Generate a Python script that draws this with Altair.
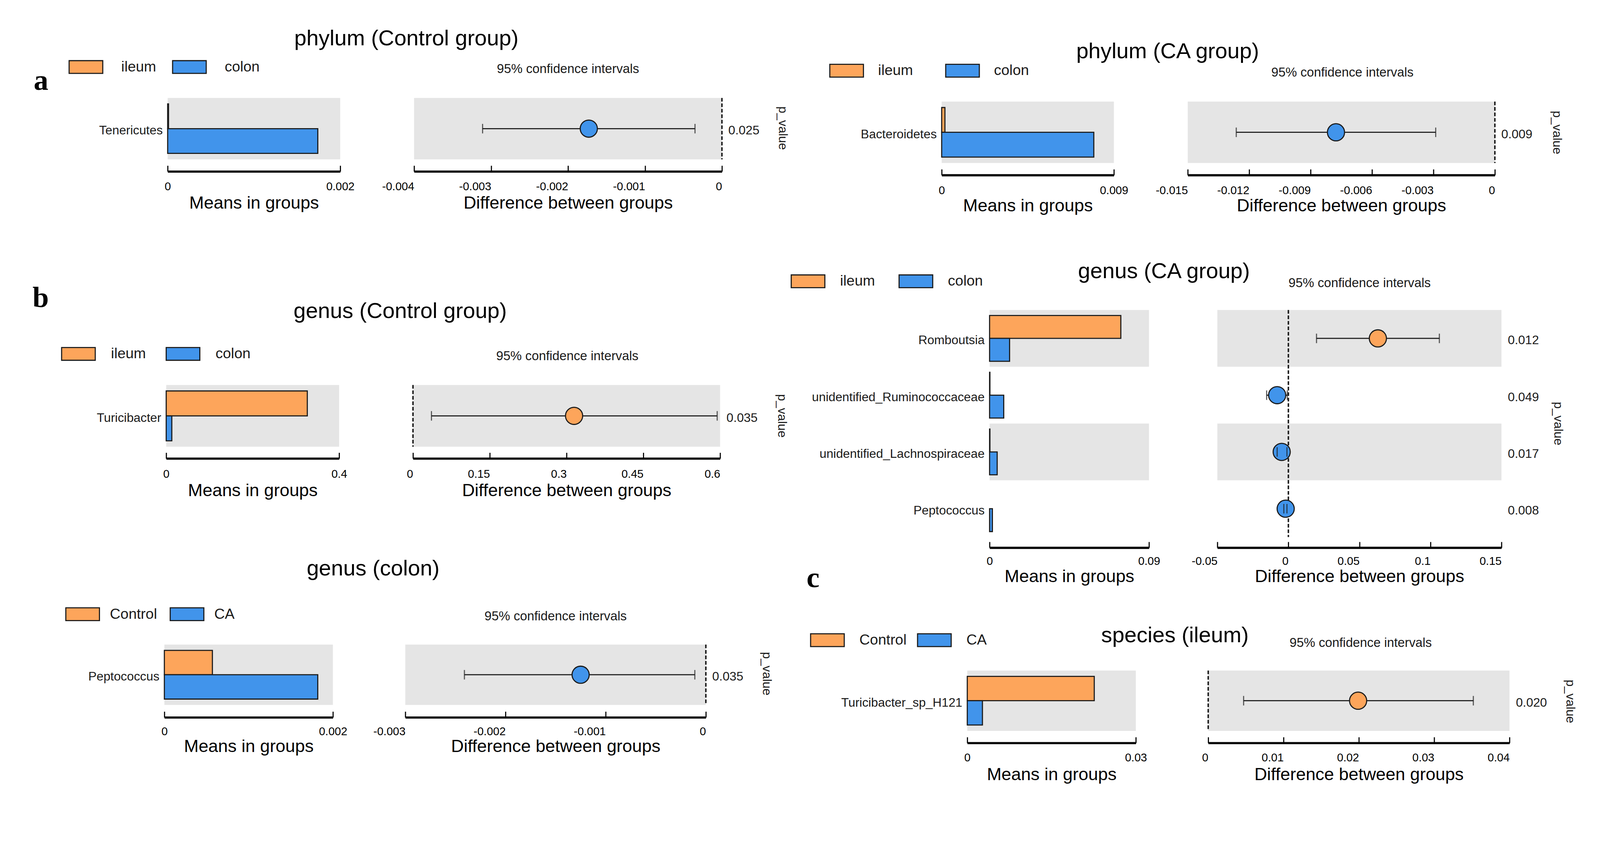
import altair as alt
import pandas as pd

# ---------------------------------------------------------------- data
# a) phylum, Control group : ileum vs colon
phyCtl_taxa = ["Tenericutes"]
phyCtl_groups = ["ileum", "colon"]
phyCtl_mean_g1 = [0.00001]
phyCtl_mean_g2 = [0.00174]
phyCtl_diff = [-0.00173]
phyCtl_ci_lo = [-0.00311]
phyCtl_ci_hi = [-0.00035]
phyCtl_p = ["0.025"]
phyCtl_mean_ticks = [0, 0.002]
phyCtl_diff_ticks = [-0.004, -0.003, -0.002, -0.001, 0]

# a) phylum, CA group : ileum vs colon
phyCA_taxa = ["Bacteroidetes"]
phyCA_groups = ["ileum", "colon"]
phyCA_mean_g1 = [0.00017]
phyCA_mean_g2 = [0.00795]
phyCA_diff = [-0.00776]
phyCA_ci_lo = [-0.01263]
phyCA_ci_hi = [-0.00289]
phyCA_p = ["0.009"]
phyCA_mean_ticks = [0, 0.009]
phyCA_diff_ticks = [-0.015, -0.012, -0.009, -0.006, -0.003, 0]

# b) genus, Control group : ileum vs colon
genCtl_taxa = ["Turicibacter"]
genCtl_groups = ["ileum", "colon"]
genCtl_mean_g1 = [0.3264]
genCtl_mean_g2 = [0.013]
genCtl_diff = [0.3147]
genCtl_ci_lo = [0.0361]
genCtl_ci_hi = [0.5943]
genCtl_p = ["0.035"]
genCtl_mean_ticks = [0, 0.4]
genCtl_diff_ticks = [0, 0.15, 0.3, 0.45, 0.6]

# b) genus, CA group : ileum vs colon
genCA_taxa = ["Romboutsia", "unidentified_Ruminococcaceae",
              "unidentified_Lachnospiraceae", "Peptococcus"]
genCA_groups = ["ileum", "colon"]
genCA_mean_g1 = [0.0741, 0.0002, 0.0002, 0.0]
genCA_mean_g2 = [0.0113, 0.0080, 0.0043, 0.0016]
genCA_diff = [0.0630, -0.0079, -0.0047, -0.0019]
genCA_ci_lo = [0.0198, -0.0153, -0.0079, -0.0032]
genCA_ci_hi = [0.1063, -0.0008, -0.0010, -0.0010]
genCA_p = ["0.012", "0.049", "0.017", "0.008"]
genCA_mean_ticks = [0, 0.09]
genCA_diff_ticks = [-0.05, 0, 0.05, 0.1, 0.15]

# b) genus, colon : Control vs CA
genCol_taxa = ["Peptococcus"]
genCol_groups = ["Control", "CA"]
genCol_mean_g1 = [0.00057]
genCol_mean_g2 = [0.00182]
genCol_diff = [-0.00125]
genCol_ci_lo = [-0.00241]
genCol_ci_hi = [-0.00011]
genCol_p = ["0.035"]
genCol_mean_ticks = [0, 0.002]
genCol_diff_ticks = [-0.003, -0.002, -0.001, 0]

# c) species, ileum : Control vs CA
spIle_taxa = ["Turicibacter_sp_H121"]
spIle_groups = ["Control", "CA"]
spIle_mean_g1 = [0.0226]
spIle_mean_g2 = [0.0027]
spIle_diff = [0.0199]
spIle_ci_lo = [0.0047]
spIle_ci_hi = [0.0352]
spIle_p = ["0.020"]
spIle_mean_ticks = [0, 0.03]
spIle_diff_ticks = [0, 0.01, 0.02, 0.03, 0.04]

panel_titles = ["phylum (Control group)", "phylum (CA group)", "genus (Control group)",
                "genus (CA group)", "genus (colon)", "species (ileum)"]
panel_letters = ["a", "", "b", "", "", "c"]

PANELS = [
    dict(taxa=phyCtl_taxa, groups=phyCtl_groups, m1=phyCtl_mean_g1, m2=phyCtl_mean_g2,
         diff=phyCtl_diff, lo=phyCtl_ci_lo, hi=phyCtl_ci_hi, p=phyCtl_p,
         mt=phyCtl_mean_ticks, dt=phyCtl_diff_ticks),
    dict(taxa=phyCA_taxa, groups=phyCA_groups, m1=phyCA_mean_g1, m2=phyCA_mean_g2,
         diff=phyCA_diff, lo=phyCA_ci_lo, hi=phyCA_ci_hi, p=phyCA_p,
         mt=phyCA_mean_ticks, dt=phyCA_diff_ticks),
    dict(taxa=genCtl_taxa, groups=genCtl_groups, m1=genCtl_mean_g1, m2=genCtl_mean_g2,
         diff=genCtl_diff, lo=genCtl_ci_lo, hi=genCtl_ci_hi, p=genCtl_p,
         mt=genCtl_mean_ticks, dt=genCtl_diff_ticks),
    dict(taxa=genCA_taxa, groups=genCA_groups, m1=genCA_mean_g1, m2=genCA_mean_g2,
         diff=genCA_diff, lo=genCA_ci_lo, hi=genCA_ci_hi, p=genCA_p,
         mt=genCA_mean_ticks, dt=genCA_diff_ticks),
    dict(taxa=genCol_taxa, groups=genCol_groups, m1=genCol_mean_g1, m2=genCol_mean_g2,
         diff=genCol_diff, lo=genCol_ci_lo, hi=genCol_ci_hi, p=genCol_p,
         mt=genCol_mean_ticks, dt=genCol_diff_ticks),
    dict(taxa=spIle_taxa, groups=spIle_groups, m1=spIle_mean_g1, m2=spIle_mean_g2,
         diff=spIle_diff, lo=spIle_ci_lo, hi=spIle_ci_hi, p=spIle_p,
         mt=spIle_mean_ticks, dt=spIle_diff_ticks),
]

# ---------------------------------------------------------------- layout (page pixels)
COLX = [8, 1040, 2150, 3200]
COLW = [1032, 1110, 1050, 1165]
ROWY = [8, 700, 1450]
ROWH = [692, 750, 746]
TOP_FIX = 76   # vertical slack that the renderer adds above the first row

LAYOUT = [
    dict(col=0, row=0, bar=(457, 929), dif=(1131, 1973), y=(270, 438), axis=471, lab=51, tit=101,
         title=(1110, 126), ci=(1552, 202), leg=(233.5, 185.5), lo=49, cp=38, pv=(2138, 352),
         letter=(90, 247)),
    dict(col=2, row=0, bar=(2574, 3045), dif=(3247, 4087), y=(280, 448), axis=481, lab=52, tit=99,
         title=(3192, 161), ci=(3670, 212), leg=(2314, 195.5), lo=38.5, cp=82, pv=(4256, 364)),
    dict(col=0, row=1, bar=(453, 926), dif=(1128, 1968), y=(1055, 1224), axis=1256, lab=52, tit=102,
         title=(1093, 872), ci=(1550, 987), leg=(213, 970), lo=41.5, cp=48, pv=(2136, 1139),
         letter=(87, 841)),
    dict(col=2, row=1, bar=(2705, 3141), dif=(3328, 4105), y=(850, 1471), axis=1500, lab=47, tit=94,
         title=(3182, 763), ci=(3717, 787), leg=(2208.5, 771.5), lo=40, cp=59, pv=(4259, 1160)),
    dict(col=0, row=2, bar=(448, 909), dif=(1107, 1929), y=(1765, 1930), axis=1964, lab=48, tit=94,
         title=(1019, 1576), ci=(1518, 1699), leg=(224.5, 1682), lo=27, cp=29.5, pv=(2094, 1844)),
    dict(col=2, row=2, bar=(2644, 3105), dif=(3303, 4127), y=(1836, 2001), axis=2034, lab=50, tit=101,
         title=(3212, 1759), ci=(3720, 1771), leg=(2261.5, 1753), lo=40, cp=23.5, pv=(4292, 1920),
         letter=(2204, 1607)),
]

ORANGE = "#FDA55B"
BLUE = "#4194EB"
GRAY = "#E5E5E5"
DARK = "#1A1A1A"
FONT = "Liberation Sans"
SERIF = "Liberation Serif"
TICK = 16
SYM_W = 92.0
SYM_PATH = "M-1,-0.38L1,-0.38L1,0.38L-1,0.38Z"
TITLE_FS = 60
CI_FS = 35


def x_axis(ticks, axis_rel, lab, tit, title, align):
    return alt.Axis(
        orient="top", offset=-axis_rel, values=ticks, grid=False,
        domainWidth=6, domainColor="black", ticks=True, tickSize=TICK, tickWidth=3,
        tickColor="black", labelPadding=-(TICK + lab), labelBaseline="alphabetic",
        labelAlign=align, labelFontSize=31, labelColor="black", labelFlush=False,
        labelOverlap=False, labelExpr="'' + datum.value",
        title=title, titleY=tit, titleBaseline="alphabetic", titleFontSize=48,
        titleFontWeight="normal", titleColor="black")


def bg_frame(cats, lo_v, hi_v):
    return pd.DataFrame({"taxon": cats,
                         "shade": [i % 2 == 0 for i in range(len(cats))],
                         "x0": [lo_v] * len(cats), "x1": [hi_v] * len(cats)})


def cell_title(text, pos, cx, ry, W, fs, color):
    # the title group sits one text-height above "offset"; compensate so the baseline lands at pos
    return alt.TitleParams(text, anchor="middle", frame="group",
                           offset=-(pos[1] - ry + fs), dx=pos[0] - cx - W / 2,
                           baseline="alphabetic", fontSize=fs, font=FONT,
                           fontWeight="normal", color=color)


def bar_cell(d, L, title, letter):
    col, row = L["col"], L["row"]
    cx, ry, W, H = COLX[col], ROWY[row], COLW[col], ROWH[row]
    cats = d["taxa"]
    g1, g2 = d["groups"]
    x0, x1 = L["bar"][0] - cx, L["bar"][1] - cx
    y0, y1 = L["y"][0] - ry, L["y"][1] - ry
    xsc = alt.Scale(domain=[d["mt"][0], d["mt"][-1]], range=[x0, x1], nice=False, zero=False)
    ysc = alt.Scale(domain=cats, range=[y0, y1], paddingInner=0, paddingOuter=0)

    rows = []
    for i, t in enumerate(cats):
        rows.append({"taxon": t, "group": g1, "mean": d["m1"][i]})
        rows.append({"taxon": t, "group": g2, "mean": d["m2"][i]})
    bar_df = pd.DataFrame(rows)

    half = SYM_W / 2 + 1.5
    legend = alt.Legend(
        orient="none", legendX=L["leg"][0] - cx - half, legendY=L["leg"][1] - ry - half,
        direction="horizontal", title=None, padding=0,
        symbolType=SYM_PATH, symbolSize=SYM_W * SYM_W, symbolStrokeColor=DARK,
        symbolStrokeWidth=3, symbolOpacity=1, labelFontSize=40, labelFont=FONT,
        labelColor=DARK, labelOffset=L["lo"], columnPadding=L["cp"], labelLimit=0)

    yargs = dict(orient="left", offset=-x0, domain=False, ticks=False, labelPadding=14,
                 labelFontSize=34, labelBaseline="alphabetic", labelOffset=16, labelLimit=0,
                 labelColor=DARK, grid=False)
    if letter:
        yargs.update(title=letter, titleAngle=0, titleAlign="left", titleBaseline="alphabetic",
                     titleX=L["letter"][0] - L["bar"][0], titleY=L["letter"][1] - ry,
                     titleFont=SERIF, titleFontWeight="bold", titleFontSize=80, titleColor="black")
    else:
        yargs.update(title="")
    yaxis = alt.Axis(**yargs)

    # first layer carries the axes; other layers leave the axis unspecified so it merges
    bg = alt.Chart(bg_frame(cats, d["mt"][0], d["mt"][-1])).transform_filter(
        "datum.shade").mark_rect(color=GRAY).encode(
        x=alt.X("x0:Q", scale=xsc,
                axis=x_axis(d["mt"], L["axis"] - ry, L["lab"], L["tit"], "Means in groups", "center")),
        x2="x1:Q",
        y=alt.Y("taxon:N", scale=ysc, axis=yaxis))

    bars = alt.Chart(bar_df).transform_filter("datum.mean > 0").mark_bar(
        stroke=DARK, strokeWidth=3, opacity=1).encode(
        x=alt.X("mean:Q", scale=xsc),
        y=alt.Y("taxon:N", scale=ysc),
        yOffset=alt.YOffset("group:N", scale=alt.Scale(domain=[g1, g2], paddingInner=0,
                                                       paddingOuter=0.24)),
        color=alt.Color("group:N", scale=alt.Scale(domain=[g1, g2], range=[ORANGE, BLUE]),
                        legend=legend))

    return alt.layer(bg, bars).properties(
        width=W, height=H, title=cell_title(title, L["title"], cx, ry, W, TITLE_FS, "black"))


def diff_cell(d, L):
    col, row = L["col"] + 1, L["row"]
    cx, ry, W, H = COLX[col], ROWY[row], COLW[col], ROWH[row]
    cats = d["taxa"]
    g1, g2 = d["groups"]
    x0, x1 = L["dif"][0] - cx, L["dif"][1] - cx
    y0, y1 = L["y"][0] - ry, L["y"][1] - ry
    xsc = alt.Scale(domain=[d["dt"][0], d["dt"][-1]], range=[x0, x1], nice=False, zero=False)
    ysc = alt.Scale(domain=cats, range=[y0, y1], paddingInner=0, paddingOuter=0)

    higher = [g1 if a > b else g2 for a, b in zip(d["m1"], d["m2"])]
    df = pd.DataFrame({"taxon": cats, "diff": d["diff"], "lo": d["lo"], "hi": d["hi"],
                       "higher": higher})
    zero_df = pd.DataFrame({"taxon": [cats[0]], "bot": [cats[-1]], "zero": [0.0]})

    pexpr = "''"
    for t, p in zip(reversed(cats), reversed(d["p"])):
        pexpr = "datum.value === '%s' ? '%s' : (%s)" % (t, p, pexpr)

    yaxis_r = alt.Axis(
        orient="right", offset=x1 - W, domain=False, ticks=False, grid=False,
        labelPadding=17, labelAlign="left", labelBaseline="alphabetic", labelOffset=16,
        labelFontSize=34, labelColor=DARK, labelExpr=pexpr, labelLimit=0,
        title="p_value", titleAngle=90, titleX=L["pv"][0] - L["dif"][1], titleY=L["pv"][1] - ry,
        titleAlign="center", titleBaseline="middle", titleFontSize=34,
        titleFontWeight="normal", titleColor=DARK)

    bg = alt.Chart(bg_frame(cats, d["dt"][0], d["dt"][-1])).transform_filter(
        "datum.shade").mark_rect(color=GRAY).encode(
        x=alt.X("x0:Q", scale=xsc,
                axis=x_axis(d["dt"], L["axis"] - ry, L["lab"], L["tit"],
                            "Difference between groups", "right")),
        x2="x1:Q",
        y=alt.Y("taxon:N", scale=ysc, axis=yaxis_r))

    zero = alt.Chart(zero_df).mark_rule(color=DARK, strokeWidth=4, strokeDash=[10, 5]).encode(
        x=alt.X("zero:Q", scale=xsc),
        y=alt.Y("taxon:N", scale=ysc, bandPosition=0),
        y2=alt.Y2("bot:N", bandPosition=1))

    ci = alt.Chart(df).mark_rule(color=DARK, strokeWidth=3).encode(
        x=alt.X("lo:Q", scale=xsc),
        x2="hi:Q",
        y=alt.Y("taxon:N", scale=ysc))

    dot = alt.Chart(df).mark_circle(size=2200, stroke=DARK, strokeWidth=3, opacity=1).encode(
        x=alt.X("diff:Q", scale=xsc),
        y=alt.Y("taxon:N", scale=ysc),
        color=alt.Color("higher:N", scale=alt.Scale(domain=[g1, g2], range=[ORANGE, BLUE]),
                        legend=None))

    cap_lo = alt.Chart(df).mark_tick(color=DARK, thickness=3, size=26, orient="vertical").encode(
        x=alt.X("lo:Q", scale=xsc), y=alt.Y("taxon:N", scale=ysc))
    cap_hi = alt.Chart(df).mark_tick(color=DARK, thickness=3, size=26, orient="vertical").encode(
        x=alt.X("hi:Q", scale=xsc), y=alt.Y("taxon:N", scale=ysc))

    return alt.layer(bg, zero, ci, dot, cap_lo, cap_hi).properties(
        width=W, height=H,
        title=cell_title("95% confidence intervals", L["ci"], cx, ry, W, CI_FS, DARK))


cells = []
for i in range(len(PANELS)):
    cells.append(bar_cell(PANELS[i], LAYOUT[i], panel_titles[i], panel_letters[i]))
    cells.append(diff_cell(PANELS[i], LAYOUT[i]))

chart = alt.concat(*cells, columns=4, spacing=0, bounds="flush").resolve_scale(
    color="independent", yOffset="independent"
).properties(
    padding={"top": -TOP_FIX, "left": 0, "right": 0, "bottom": 0}, background="white"
).configure(font=FONT).configure_view(
    stroke="transparent"
).configure_axis(labelFont=FONT, titleFont=FONT)

chart.save("out.html", embed_options={"renderer": "svg", "actions": False})
